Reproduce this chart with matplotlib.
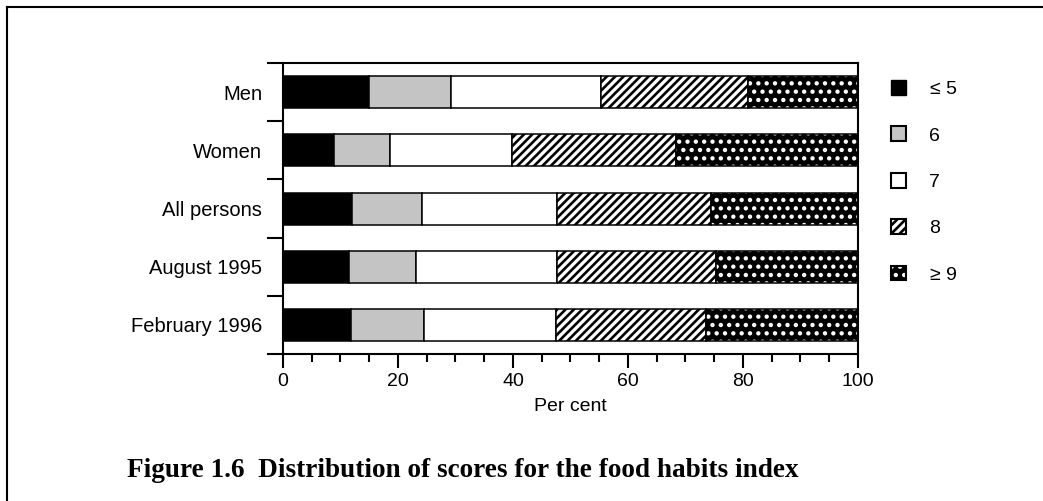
import numpy as np
import matplotlib
matplotlib.use('Agg')
import matplotlib.pyplot as plt
from matplotlib.patches import Patch
from matplotlib.lines import Line2D
from matplotlib.ticker import MultipleLocator

plt.rcParams['font.family'] = ['Liberation Sans', 'DejaVu Sans']
plt.rcParams['hatch.linewidth'] = 1.9

# data (per cent of each group)
groups = ['Men', 'Women', 'All persons', 'August 1995', 'February 1996']
score_labels = ['\u2264 5', '6', '7', '8', '\u2265 9']
le5 = [15.0, 8.8, 12.0, 11.5, 11.9]
s6 = [14.3, 9.8, 12.1, 11.7, 12.7]
s7 = [26.0, 21.3, 23.6, 24.5, 22.9]
s8 = [25.6, 28.4, 26.7, 27.6, 26.1]
ge9 = [19.1, 31.7, 25.6, 24.7, 26.4]

fig = plt.figure(figsize=(10.43, 5.01), dpi=100)
ax = fig.add_axes([0.2713, 0.2934, 0.5513, 0.5808])

ypos = np.arange(len(groups)) + 0.5
bar_h = 0.55
lw = 1.1

series = [le5, s6, s7, s8, ge9]
faces = ['black', '#c4c4c4', 'white', 'white', 'black']
left = np.zeros(len(groups))
for i, vals in enumerate(series):
    vals = np.array(vals)
    if i == 4:
        # black with white dots, then a black outline on top
        ax.barh(ypos, vals, left=left, height=bar_h, color='black',
                edgecolor='white', hatch='..', linewidth=0)
        ax.barh(ypos, vals, left=left, height=bar_h, fill=False,
                edgecolor='black', linewidth=lw)
    else:
        ax.barh(ypos, vals, left=left, height=bar_h, color=faces[i],
                edgecolor='black', linewidth=lw,
                hatch='////' if i == 3 else None)
    left += vals

ax.set_xlim(0, 100)
ax.set_ylim(len(groups), 0)
ax.xaxis.set_major_locator(MultipleLocator(20))
ax.xaxis.set_minor_locator(MultipleLocator(5))
ax.tick_params(axis='x', which='major', length=10, width=1.5, pad=3.5, labelsize=14)
ax.tick_params(axis='x', which='minor', length=5.8, width=1.5)

ax.set_yticks(np.arange(len(groups) + 1))
ax.set_yticklabels([])
ax.set_yticks(ypos, minor=True)
ax.set_yticklabels(groups, minor=True)
ax.tick_params(axis='y', which='major', length=11.5, width=1.5)
ax.tick_params(axis='y', which='minor', length=0, pad=15, labelsize=14.5)

for s in ax.spines.values():
    s.set_linewidth(1.5)

ax.set_xlabel('Per cent', fontsize=14, labelpad=6)

# legend
handles = [
    Patch(facecolor='black', edgecolor='black'),
    Patch(facecolor='#c4c4c4', edgecolor='black', linewidth=1.5),
    Patch(facecolor='white', edgecolor='black', linewidth=1.5),
    Patch(facecolor='white', edgecolor='black', hatch='////', linewidth=1.5),
    (Patch(facecolor='black', edgecolor='white', hatch='..', linewidth=0),
     Patch(fill=False, edgecolor='black', linewidth=1.5)),
]
ax.legend(handles, score_labels, loc='upper left',
          bbox_to_anchor=(891 / 1043, 1 - 80 / 501), bbox_transform=fig.transFigure,
          frameon=False, fontsize=14, handlelength=0.78, handleheight=0.78,
          labelspacing=1.46, handletextpad=1.2, borderpad=0, borderaxespad=0)

# page frame
fig.add_artist(Line2D([7 / 1043, 7 / 1043], [0, 1 - 7 / 501],
                      transform=fig.transFigure, color='black', lw=1.5))
fig.add_artist(Line2D([7 / 1043, 1], [1 - 7 / 501, 1 - 7 / 501],
                      transform=fig.transFigure, color='black', lw=1.5))

fig.text(127 / 1043, 1 - 477 / 501,
         'Figure 1.6  Distribution of scores for the food habits index',
         family='Liberation Serif', weight='bold', fontsize=19.6, va='baseline')

fig.savefig('out.png', dpi=100)
